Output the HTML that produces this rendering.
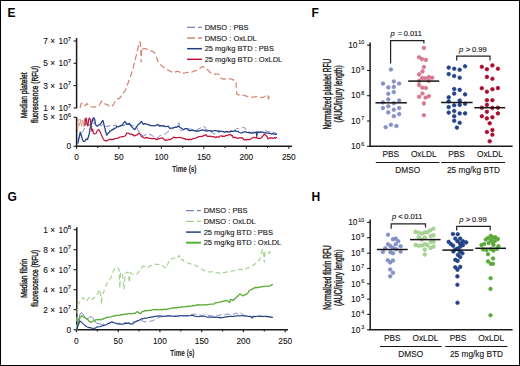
<!DOCTYPE html><html><head><meta charset="utf-8"><title>Figure</title><style>
html,body{margin:0;padding:0;background:#fff}body{width:520px;height:366px;overflow:hidden}
svg{display:block;font-family:"Liberation Sans",sans-serif}
.t{font-size:8.3px;fill:#111;stroke:#111;stroke-width:0.1px}.s{font-size:6px;fill:#111;stroke:#111;stroke-width:0.1px}.lb{font-size:12px;font-weight:bold;fill:#000}
.ax{stroke:#1a1a1a;stroke-width:1.5;fill:none}.tk{stroke:#1a1a1a;stroke-width:1.1;fill:none}
</style></head><body>
<svg width="520" height="366" viewBox="0 0 520 366">
<rect x="0.5" y="0.5" width="519" height="365" fill="#fff" stroke="#000" stroke-width="1"/>
<text class="lb" x="7.5" y="17.3">E</text>
<text class="lb" x="311.5" y="17.3">F</text>
<text class="lb" x="7.5" y="200.5">G</text>
<text class="lb" x="311.5" y="200.5">H</text>
<path class="ax" d="M76.6,38 V108.3 M76.6,117.3 V146.3 H292"/>
<path class="tk" d="M73.6,41.0 H76.6"/>
<path class="tk" d="M73.6,63.3 H76.6"/>
<path class="tk" d="M73.6,85.6 H76.6"/>
<path class="tk" d="M73.6,108.0 H76.6"/>
<path class="tk" d="M73.6,117.3 H76.6"/>
<path class="tk" d="M73.6,146.3 H76.6"/>
<text class="t" x="71.2" y="43.9" text-anchor="end">7 ×<tspan dx="1.2"> 10</tspan><tspan class="s" dy="-3.4">7</tspan></text>
<text class="t" x="71.2" y="66.2" text-anchor="end">5 ×<tspan dx="1.2"> 10</tspan><tspan class="s" dy="-3.4">7</tspan></text>
<text class="t" x="71.2" y="88.5" text-anchor="end">3 ×<tspan dx="1.2"> 10</tspan><tspan class="s" dy="-3.4">7</tspan></text>
<text class="t" x="71.2" y="110.9" text-anchor="end">1 ×<tspan dx="1.2"> 10</tspan><tspan class="s" dy="-3.4">7</tspan></text>
<text class="t" x="71.2" y="120.2" text-anchor="end">5 ×<tspan dx="1.2"> 10</tspan><tspan class="s" dy="-3.4">6</tspan></text>
<text class="t" x="71.2" y="149.2" text-anchor="end">0</text>
<path class="tk" d="M76.5,146.3 V148.8"/>
<text class="t" x="76.5" y="159.9" text-anchor="middle">0</text>
<path class="tk" d="M97.7,146.3 V147.9"/>
<path class="tk" d="M118.9,146.3 V148.8"/>
<text class="t" x="118.9" y="159.9" text-anchor="middle">50</text>
<path class="tk" d="M140.2,146.3 V147.9"/>
<path class="tk" d="M161.4,146.3 V148.8"/>
<text class="t" x="161.4" y="159.9" text-anchor="middle">100</text>
<path class="tk" d="M182.6,146.3 V147.9"/>
<path class="tk" d="M203.8,146.3 V148.8"/>
<text class="t" x="203.8" y="159.9" text-anchor="middle">150</text>
<path class="tk" d="M225.1,146.3 V147.9"/>
<path class="tk" d="M246.3,146.3 V148.8"/>
<text class="t" x="246.3" y="159.9" text-anchor="middle">200</text>
<path class="tk" d="M267.5,146.3 V147.9"/>
<path class="tk" d="M288.8,146.3 V148.8"/>
<text class="t" x="288.8" y="159.9" text-anchor="middle">250</text>
<text x="184.3" y="172.4" text-anchor="middle" font-size="9" font-weight="bold" fill="#1a1a1a" textLength="24.2" lengthAdjust="spacingAndGlyphs">Time (s)</text>
<text transform="translate(26.6,95.3) rotate(-90)" x="0" y="0" text-anchor="middle" font-size="9.9" font-weight="normal" fill="#1a1a1a" stroke="#1a1a1a" stroke-width="0.4" textLength="46" lengthAdjust="spacingAndGlyphs">Median platelet</text>
<text transform="translate(37.5,94.4) rotate(-90)" x="0" y="0" text-anchor="middle" font-size="9.9" font-weight="normal" fill="#1a1a1a" stroke="#1a1a1a" stroke-width="0.4" textLength="57" lengthAdjust="spacingAndGlyphs">fluorescence (RFU)</text>
<polyline points="80.0,108.0 80.2,107.2 80.4,106.3 80.6,105.4 80.8,105.0 81.0,104.0 81.8,103.1 82.6,102.7 83.1,103.5 83.5,104.5 84.0,105.0 84.9,105.0 85.8,105.5 86.4,104.5 87.0,103.5 87.5,104.2 88.0,104.5 88.5,105.3 89.0,106.0 89.8,106.4 90.7,106.5 91.6,106.9 92.4,107.0 93.2,106.8 94.1,106.8 94.9,106.8 95.7,107.0 96.5,106.6 97.3,106.5 98.2,105.9 99.0,105.5 99.5,104.9 99.9,103.9 100.4,103.4 100.9,102.3 101.3,101.6 101.8,101.0 102.5,101.8 103.1,102.5 103.8,103.1 104.4,103.8 105.2,103.8 106.1,104.2 106.9,104.5 107.7,104.9 108.5,105.3 109.3,106.1 110.2,106.3 111.0,107.0 111.7,106.5 112.5,105.8 113.2,104.9 113.7,103.8 114.1,103.3 114.6,102.5 115.0,101.5 115.5,100.9 115.9,100.4 116.4,99.4 117.2,98.9 118.1,98.9 118.9,98.3 119.7,98.3 120.2,97.5 120.8,96.9 121.4,95.6 121.9,95.0 122.5,94.0 123.0,93.3 123.6,92.8 124.1,91.8 124.7,91.1 125.2,90.6 125.5,89.8 125.8,89.3 126.1,88.2 126.4,87.4 126.7,86.7 127.0,85.6 127.3,85.1 127.6,84.1 127.9,83.5 128.2,83.0 128.5,81.9 128.8,80.8 129.1,80.4 129.4,79.6 129.7,78.5 130.0,77.8 130.2,77.5 130.5,76.7 130.8,75.3 131.1,74.9 131.4,74.3 131.7,73.2 131.9,72.3 132.1,71.7 132.3,70.6 132.5,70.0 132.7,69.4 132.9,68.5 133.1,67.9 133.4,66.7 133.6,66.0 133.8,65.6 134.0,64.6 134.2,63.7 134.4,62.9 134.6,62.2 134.8,61.7 135.0,60.7 135.2,59.6 135.3,59.3 135.5,58.2 135.7,57.5 135.9,56.6 136.1,55.9 136.3,55.1 136.5,54.2 136.6,53.7 136.8,52.6 137.0,52.2 137.2,51.3 137.4,50.2 137.6,49.9 137.7,49.1 137.9,48.1 138.1,47.4 138.3,46.3 138.5,45.8 138.7,44.9 138.8,43.9 139.0,43.6 139.2,42.5 140.2,42.0 140.3,42.7 140.3,43.5 140.4,44.6 140.4,45.1 140.5,46.1 140.6,46.6 140.6,47.8 140.7,48.3 140.7,48.9 140.8,50.0 140.8,51.1 140.9,51.4 140.9,52.7 140.9,53.5 140.9,54.1 141.0,54.5 141.0,55.3 141.0,56.2 141.0,57.1 141.1,58.1 141.1,59.1 141.1,59.5 141.1,60.2 141.2,61.2 141.2,62.0 141.2,61.0 141.3,60.1 141.3,59.6 141.3,58.8 141.3,57.6 141.4,57.0 141.4,56.4 141.4,55.6 141.5,54.5 141.5,54.0 141.5,52.7 141.6,52.2 141.6,51.5 141.6,50.7 141.6,49.6 141.7,48.6 141.7,48.0 142.3,48.3 143.0,49.2 144.0,48.9 145.0,48.5 146.0,48.7 147.0,49.2 148.0,49.9 149.0,50.5 149.8,50.4 150.7,50.9 151.5,50.8 152.3,51.2 153.1,51.6 153.8,52.3 154.6,53.0 154.9,53.8 155.3,54.6 155.6,55.3 156.0,55.9 156.3,56.9 156.7,58.0 157.0,58.5 157.3,59.4 157.6,60.6 157.9,60.9 158.2,62.4 158.5,63.0 159.2,64.0 160.0,64.5 160.8,65.1 161.5,65.6 162.3,66.2 163.0,66.8 163.8,67.6 164.5,67.7 165.3,68.7 166.0,69.2 167.0,69.6 168.0,70.0 168.9,70.4 169.9,71.1 170.8,71.5 171.6,72.0 172.3,72.0 173.1,72.7 173.8,73.0 174.5,72.5 175.3,72.0 176.0,71.5 176.8,71.6 177.7,71.2 178.5,71.5 179.3,72.1 180.2,72.4 181.0,73.0 181.9,73.2 182.8,72.8 183.7,73.2 184.6,73.0 185.6,72.9 186.5,72.5 187.5,72.2 188.3,72.5 189.2,72.0 190.0,72.3 190.8,72.3 191.6,72.1 192.3,71.9 193.1,71.5 193.9,71.0 194.6,70.9 195.4,70.8 196.3,70.4 197.2,69.7 198.1,69.5 198.8,68.8 199.6,68.4 200.3,68.0 201.0,67.6 201.8,66.8 202.5,66.6 203.3,67.0 204.1,67.1 204.9,67.6 205.7,67.7 206.4,68.1 207.0,69.3 207.7,69.7 208.3,70.6 209.0,71.0 209.7,72.0 210.4,72.6 211.1,73.1 211.9,73.1 212.8,73.6 213.6,73.8 214.4,74.2 215.3,74.4 216.1,74.0 217.0,74.0 217.8,74.0 218.7,74.2 219.0,74.8 219.2,76.1 219.5,77.0 219.8,77.5 220.6,77.8 221.4,78.5 222.3,78.8 223.1,79.2 224.0,79.1 224.9,78.9 225.7,78.9 226.6,78.6 227.5,78.6 228.4,78.6 229.3,78.9 230.1,78.8 231.0,79.0 231.9,79.2 232.6,79.9 233.3,79.8 234.1,80.3 234.8,81.2 235.5,81.2 236.2,81.9 236.2,82.6 236.2,83.8 236.2,84.5 236.2,85.2 236.2,86.2 236.3,86.8 236.3,87.8 236.4,88.6 236.4,89.8 236.5,90.8 236.5,91.5 236.6,92.4 236.6,93.3 236.7,93.9 237.6,94.5 238.6,94.9 239.5,95.0 240.4,95.4 241.3,94.9 242.1,95.1 243.0,95.2 243.9,95.4 244.8,95.7 245.7,95.9 246.5,96.1 247.4,96.6 248.3,96.7 249.2,96.7 250.0,96.7 250.9,96.9 251.7,97.1 252.6,97.2 253.5,97.2 254.4,97.0 255.2,96.9 256.1,96.6 257.0,96.7 257.9,96.8 258.8,97.0 259.6,97.0 260.5,97.4 261.4,97.6 262.2,97.2 263.0,97.3 263.8,97.0 264.6,96.7 265.4,96.1 266.2,95.9 267.1,95.3 267.9,95.0 268.0,95.9 268.1,97.0 268.3,98.1 268.4,98.9 268.8,98.2 269.1,97.2 269.5,96.1" fill="none" stroke="#d2826f" stroke-width="1.2" stroke-linejoin="round" stroke-dasharray="6 3"/>
<polyline points="77.6,132.5 77.8,127.0 78.0,118.7 79.1,126.1 80.2,119.1 81.3,126.8 82.4,119.0 83.5,126.7 84.6,117.6 85.7,125.1 86.8,119.4" fill="none" stroke="#d2826f" stroke-width="1.0" stroke-linejoin="round" stroke-dasharray="7 2" stroke-opacity="0.7"/>
<polyline points="77.2,141.0 77.6,140.1 78.0,139.2 78.4,138.7 78.8,138.1 79.2,137.1 79.7,136.4 80.1,136.0 80.6,135.4 81.1,134.8 81.5,133.8 82.0,132.6 82.7,131.9 83.4,130.7 83.8,129.6 84.1,128.9 84.5,127.7 84.8,127.0 84.9,125.9 85.1,125.1 85.2,124.4 85.3,124.1 85.4,123.3 85.6,122.4 85.7,121.4 86.2,120.7 86.7,119.6 87.0,120.3 87.3,121.3 87.6,122.4 87.8,123.4 88.0,124.4 88.3,125.5 88.5,126.1 89.0,125.5 89.5,124.2 89.8,122.9 90.1,122.4 90.4,121.4 90.6,122.3 90.8,123.0 91.0,123.5 91.2,124.6 91.4,125.1 91.6,126.5 91.8,127.0 92.3,126.4 92.7,125.2 93.2,124.2 93.9,123.1 94.6,122.4 95.1,123.6 95.5,124.3 96.0,125.1 96.7,125.9 97.4,126.1 98.0,125.7 98.6,124.8 99.2,124.2 99.8,124.8 100.5,125.5 101.1,126.1 101.7,125.4 102.3,124.6 102.9,124.2 103.8,124.5 104.8,125.1 105.5,126.0 106.3,126.0 107.0,127.0 108.0,126.1 109.0,126.0 110.0,125.6 111.0,125.0 112.0,125.3 113.0,126.0 114.0,125.5 115.0,125.0 116.0,125.5 117.0,126.0 118.0,126.4 119.0,127.0 119.7,126.7 120.3,125.4 121.0,125.0 122.0,125.4 123.0,126.0 124.0,125.3 125.0,125.0 126.0,124.6 127.0,124.0 128.0,124.0 129.0,124.2 130.0,124.4 130.9,124.9 131.8,124.9 132.6,125.3 133.5,125.6 134.3,126.3 135.2,126.1 136.1,126.5 136.9,127.3 137.2,128.0 137.5,129.3 137.8,130.0 138.1,130.8 138.9,131.3 139.6,132.1 140.4,133.0 141.0,133.5 141.6,134.5 142.1,134.9 142.7,136.0 143.5,135.8 144.2,135.5 145.0,134.8 146.2,134.9 147.3,134.2 148.2,134.5 149.1,134.9 149.9,134.3 150.8,134.8 151.7,135.1 152.5,136.0 153.3,136.3 154.2,136.5 155.0,137.0 155.7,138.1 156.5,138.3 157.3,137.8 158.0,137.4 158.8,136.5 159.6,136.0 160.4,135.5 161.2,135.4 162.0,135.1 162.9,134.5 163.8,134.4 164.6,134.2 165.3,134.1 166.0,133.1 166.7,132.4 167.4,132.0 168.1,131.9 168.9,131.3 169.6,131.4 170.4,130.8 171.0,130.1 171.6,129.5 172.1,128.8 172.7,128.5 173.6,128.4 174.4,127.5 175.3,126.9 176.2,126.7 176.6,125.6 177.1,124.9 177.5,124.3 177.9,123.8 179.0,122.7 179.1,123.7 179.2,124.1 179.2,124.9 179.3,126.1 179.4,126.8 179.4,128.3 179.5,128.4 179.6,129.6 180.4,130.2 181.3,130.8 182.0,130.6 182.8,129.8 183.5,129.8 184.2,129.0 185.1,128.9 185.9,128.5 186.8,128.6 187.7,128.5 188.6,128.4 189.5,129.0 190.3,129.1 191.2,129.1 192.1,129.8 192.9,129.6 193.8,130.0 194.7,129.9 195.5,129.7 196.4,130.2 197.2,129.6 198.1,129.1 199.0,128.7 199.8,128.5 200.6,127.9 201.4,128.0 202.2,127.3 203.3,126.7 204.5,126.7 205.1,127.1 205.7,128.5 206.2,128.9 206.8,129.6 207.9,130.3 209.1,130.2 209.8,130.7 210.5,131.6 211.1,132.0 211.8,132.7 212.5,133.0 213.3,133.6 214.0,133.8 214.8,134.2 215.6,133.5 216.4,133.2 217.2,133.0 218.0,132.9 218.9,132.5 219.8,132.1 220.6,131.3 221.5,131.3 222.3,131.7 223.2,132.0 224.1,131.9 224.9,132.2 225.8,132.5 226.7,132.4 227.5,132.5 228.4,132.2 229.2,131.8 230.1,131.0 231.0,130.8 231.9,131.0 232.8,130.9 233.6,130.0 234.5,130.2 235.3,130.0 236.0,129.4 236.8,128.5 237.7,128.8 238.5,128.4 239.3,129.2 240.2,129.0 241.1,128.1 242.0,128.2 242.9,127.3 243.8,127.7 244.7,127.9 245.3,128.3 245.8,129.2 246.4,130.2 247.2,130.9 247.9,131.4 248.7,131.9 249.8,132.4 251.0,132.5 251.9,132.7 252.8,132.0 253.6,131.7 254.5,131.9 255.3,132.2 256.2,131.5 257.0,132.2 257.9,131.9 258.8,131.7 259.6,132.4 260.5,132.6 261.4,132.5 262.2,132.4 263.1,131.7 263.9,131.5 264.8,130.8 265.6,130.7 266.4,131.3 267.2,131.3 268.4,131.5 269.5,131.9 270.3,131.8 271.0,131.4 271.8,130.8 272.6,131.5 273.3,132.3 274.1,133.0 275.1,132.9 276.0,133.1 277.0,133.7" fill="none" stroke="#7483c2" stroke-width="1.0" stroke-linejoin="round" stroke-dasharray="6 3"/>
<polyline points="84.7,126.0 84.8,125.3 84.9,124.4 85.0,123.2 85.1,122.3 85.2,121.8 85.3,120.8 85.4,119.9 85.5,119.0 86.2,118.0 86.3,118.8 86.4,119.8 86.5,120.6 86.7,121.5 86.8,122.1 86.9,123.1 87.0,124.0 87.4,125.0 87.8,126.0 87.9,125.2 88.0,124.5 88.1,123.6 88.3,122.6 88.4,121.7 88.5,120.8 88.6,120.0 89.0,118.8 89.4,118.0 90.2,119.0 90.3,119.7 90.4,120.7 90.5,121.6 90.6,122.5 90.7,123.5 90.8,124.3 90.9,125.1 91.0,126.0 91.1,126.7 91.3,127.5 91.4,128.4 91.5,129.2 91.7,130.2 91.8,131.0 92.2,130.2 92.6,129.0 92.8,129.9 92.9,130.5 93.1,131.6 93.2,132.3 93.4,133.0 94.6,134.0 96.0,133.5 96.3,132.8 96.7,132.0 97.0,131.0 97.7,130.4 98.3,129.5 99.5,130.5 100.0,131.7 100.6,132.6 100.9,133.5 101.3,134.6 101.7,135.6 102.0,136.3 102.5,137.1 102.9,138.3 103.4,139.1 104.1,140.1 104.8,140.9" fill="none" stroke="#c21438" stroke-width="1.2" stroke-linejoin="round"/>
<polyline points="104.8,140.9 106.3,140.6 107.1,140.8 107.8,140.5 108.6,139.8 109.4,139.3 110.3,139.2 111.2,139.8 112.0,139.4 112.9,139.4 113.8,139.2 114.6,138.6 115.5,138.6 116.4,138.5 117.2,138.3 118.1,138.0 119.0,137.7 119.9,137.1 120.8,137.0 121.6,136.7 122.5,136.5 123.7,136.5 124.8,136.0 125.3,135.7 125.9,134.9 126.5,133.8 127.0,133.0 127.8,133.2 128.6,133.2 129.4,133.7 130.0,134.2 131.2,134.0 132.3,134.8 133.1,134.7 133.8,135.6 134.6,136.0 135.4,135.4 136.1,135.1 136.9,134.8 137.7,134.6 138.4,133.6 139.2,133.0 139.7,133.8 140.1,134.1 140.6,134.6 141.0,135.6 141.5,136.5 142.3,136.5 143.0,137.3 143.8,137.7 144.7,138.2 145.6,137.9 146.4,137.4 147.3,137.7 148.2,138.2 149.1,138.3 149.9,138.4 150.8,138.3 151.7,138.7 152.5,138.6 153.3,138.6 154.2,138.3 155.0,138.5 155.7,139.5 156.5,139.4 157.4,139.6 158.2,138.5 159.1,138.8 160.0,138.3 161.2,138.2 162.3,137.7 162.9,138.2 163.4,138.9 164.0,139.4 164.6,140.0 165.5,140.4 166.3,139.9 167.2,140.2 168.1,139.8 168.9,139.4 169.8,139.7 170.7,139.4 171.5,138.8 172.3,138.2 173.0,137.7 173.8,137.1 174.6,137.7 175.4,137.7 176.2,137.7 177.3,137.6 178.5,137.5 179.7,137.3 180.8,137.7 181.9,137.8 183.1,138.3 183.9,138.8 184.8,138.5 185.7,139.5 186.5,139.4 187.5,139.2 188.5,139.8 189.5,139.4 190.3,139.1 191.2,139.6 192.1,139.2 192.9,138.8 193.8,138.5 194.7,138.3 195.5,138.1 196.4,137.7 197.2,137.5 198.1,136.9 199.0,136.5 199.8,136.5 200.7,136.4 201.6,136.7 202.4,136.2 203.3,136.0 204.3,135.2 205.2,135.5 206.2,134.8 206.8,135.6 207.3,136.3 207.9,136.5 208.8,136.2 209.7,136.7 210.5,136.1 211.4,136.5 212.2,136.8 213.1,136.6 214.0,136.7 214.8,137.1 215.7,137.5 216.6,136.7 217.4,137.1 218.3,137.1 219.1,137.1 219.8,136.1 220.6,136.0 221.5,135.8 222.3,136.5 223.2,136.1 224.1,136.3 224.9,136.3 225.8,135.4 226.7,135.5 227.5,135.4 228.3,134.8 229.0,135.0 229.8,134.5 230.6,134.4 231.4,135.6 232.2,135.4 232.6,135.7 232.9,137.2 233.3,137.7 234.4,137.2 235.6,137.7 236.5,137.7 237.4,138.4 238.3,138.3 239.2,137.8 240.1,137.7 240.9,138.0 241.8,137.7 242.4,138.2 242.9,138.4 243.5,139.4 244.5,140.1 245.4,139.5 246.4,140.0 247.2,139.4 248.1,139.5 249.0,139.7 249.8,139.4 250.7,139.2 251.6,138.2 252.4,138.0 253.3,137.7 254.2,137.2 255.1,137.6 255.9,138.0 256.8,137.7 257.6,138.1 258.5,138.4 259.4,138.4 260.2,138.3 261.0,138.1 261.7,137.3 262.5,136.5 263.1,135.7 263.7,134.7 264.3,134.2 265.1,135.0 266.0,135.4 266.5,135.9 266.9,136.4 267.4,137.4 267.8,138.5 268.3,138.8 269.1,138.1 269.8,138.2 270.6,137.7 271.8,137.9 272.9,138.3 273.7,138.2 274.5,137.6 275.4,138.3 276.2,137.4 277.0,137.5" fill="none" stroke="#c21438" stroke-width="1.25" stroke-linejoin="round"/>
<polyline points="77.9,143.7 78.1,142.6 78.2,142.1 78.4,141.1 78.6,140.5 78.7,139.7 78.9,138.3 79.1,137.4 79.2,137.4 79.4,136.0 79.5,135.1 79.7,135.1 79.9,133.7 80.0,133.3 80.2,132.1 80.5,132.9 80.8,133.9 81.0,134.3 81.3,135.6 81.6,136.3 81.8,137.5 82.1,137.9 82.3,138.9 82.5,139.6 82.8,139.8 83.0,141.0 83.9,141.5 84.8,141.4 85.3,140.7 85.7,139.7 86.2,139.1 87.6,139.5 87.8,138.2 88.0,138.3 88.3,137.1 88.5,136.3 88.8,135.6 89.0,134.8 89.2,133.7 89.5,132.6 89.6,132.1 89.7,130.6 89.8,130.1 89.9,128.9 90.2,127.9 90.4,127.4 90.7,126.4 90.9,125.1 91.3,123.8 91.8,123.3 91.9,122.0 92.0,121.2 92.1,121.0 92.2,119.6 92.5,120.4 92.7,121.4 92.8,120.6 93.0,119.4 93.1,118.6 93.2,117.7 93.9,118.0 94.6,118.6 94.7,119.3 94.9,120.3 95.0,121.1 95.1,122.2 95.2,122.8 95.4,123.8 95.5,124.2 96.2,125.5 96.9,126.1 97.6,126.1 98.3,125.1 99.2,124.8 100.1,124.2 100.6,123.2 101.0,123.2 101.5,122.6 102.0,121.4 102.9,120.5 103.2,121.8 103.4,122.4 103.7,123.5 103.9,124.2 104.1,124.8 104.3,126.4 104.6,127.0 104.8,127.9 105.0,128.5 105.2,129.1 105.3,130.7 105.5,131.6 105.7,131.9 106.0,132.4 106.3,134.0 106.6,134.4 106.9,135.4 107.3,134.3 107.8,133.7 108.2,133.5 108.6,132.5 109.4,132.3 110.1,130.9 110.9,130.8 111.6,130.5 112.3,129.4 113.1,129.7 113.8,129.0 114.5,128.3 115.2,128.2 116.0,127.8 116.7,126.7 117.6,126.6 118.5,126.9 119.3,126.1 120.2,126.2 121.0,125.4 121.7,125.5 122.5,125.0 123.0,123.8 123.4,123.3 123.9,122.8 124.3,122.3 124.8,121.5 125.3,121.9 125.9,122.5 126.5,124.0 127.0,124.4 127.8,123.8 128.6,124.1 129.4,123.3 129.7,124.5 130.0,125.0 130.6,125.5 131.2,126.1 131.7,126.7 132.3,127.3 132.9,128.0 133.4,128.5 134.0,129.1 134.6,129.6 135.1,129.0 135.5,128.7 136.0,127.6 136.4,126.8 136.9,126.2 137.5,125.8 138.1,124.7 138.6,124.2 139.2,123.8 139.8,123.7 140.3,122.7 140.9,122.1 141.5,121.5 141.9,121.7 142.4,122.9 142.9,123.8 143.3,124.4 144.4,123.6 145.6,123.8 146.8,124.2 147.9,124.4 148.7,124.9 149.4,124.8 150.2,125.6 151.2,125.7 152.1,125.6 153.1,125.6 154.2,125.8 155.4,125.6 156.2,125.1 156.9,125.0 157.7,124.4 158.3,125.2 158.8,125.1 159.4,126.2 160.4,125.6 161.3,126.0 162.3,125.6 163.2,126.3 164.1,125.9 164.9,126.4 165.8,126.7 166.9,126.5 168.1,126.2 168.7,126.8 169.2,127.6 169.8,128.5 170.8,128.1 171.7,128.0 172.7,127.9 173.6,127.8 174.4,127.4 175.3,127.3 176.2,127.3 177.0,127.2 177.7,126.1 178.5,126.2 179.3,126.8 180.0,127.6 180.8,127.9 181.6,128.3 182.3,128.8 183.1,129.6 183.9,129.6 184.8,128.8 185.7,128.5 186.5,128.5 187.2,129.0 188.0,129.8 188.8,129.8 189.5,130.8 190.3,130.5 191.2,130.3 192.1,130.7 192.9,130.2 193.8,130.4 194.7,131.1 195.5,130.7 196.4,131.3 197.2,130.9 198.1,131.1 199.0,131.1 199.8,130.5 200.7,130.4 201.6,130.1 202.4,129.9 203.3,130.2 204.2,130.4 205.1,130.2 205.9,131.0 206.8,130.8 207.7,131.1 208.5,130.5 209.3,130.6 210.2,130.8 211.1,131.1 211.9,130.9 212.8,131.1 213.7,130.8 214.6,130.7 215.4,130.5 216.3,130.7 217.2,131.0 218.0,131.4 218.9,130.9 219.8,131.1 220.6,131.3 221.5,131.4 222.3,131.5 223.2,131.7 224.1,131.9 224.9,132.3 225.8,131.5 226.7,131.3 227.5,131.7 228.4,132.0 229.2,131.9 230.1,131.9 231.0,131.3 231.9,131.1 232.8,131.5 233.6,131.4 234.5,130.8 235.3,130.6 236.2,131.3 237.1,131.5 237.9,131.3 238.7,132.1 239.5,132.5 240.7,132.8 241.8,133.0 242.6,132.4 243.3,132.1 244.1,131.9 244.9,131.8 245.8,131.8 246.7,132.4 247.5,132.5 248.4,132.4 249.2,133.1 250.1,132.4 251.0,133.0 251.9,133.3 252.8,132.9 253.6,133.0 254.5,132.5 255.3,132.6 256.2,131.9 256.3,133.2 256.4,133.8 256.6,134.2 256.7,135.8 256.8,136.5 256.9,135.4 257.0,134.7 257.1,134.3 257.2,133.3 257.3,132.5 258.3,132.2 259.2,132.5 260.2,131.9 261.1,132.2 261.9,132.0 262.8,132.1 263.7,132.5 264.6,133.0 265.4,132.7 266.3,133.2 267.2,133.0 268.1,133.0 268.9,133.0 269.8,133.6 270.6,133.7 271.5,134.0 272.4,133.4 273.2,134.0 274.1,133.7 275.1,134.3 276.0,134.3 277.0,134.2" fill="none" stroke="#223f84" stroke-width="1.25" stroke-linejoin="round"/>
<path d="M187.1,27.3 H201.9" stroke="#7483c2" stroke-width="1.2" stroke-dasharray="7.8 3.1"/>
<text class="t" x="204.7" y="29.9" style="font-size:7.5px">DMSO : PBS</text>
<path d="M187.1,38.0 H201.9" stroke="#d2826f" stroke-width="1.5" stroke-dasharray="7.8 3.1"/>
<text class="t" x="204.7" y="40.6" style="font-size:7.5px">DMSO : OxLDL</text>
<path d="M187.1,48.7 H201.9" stroke="#223f84" stroke-width="1.5"/>
<text class="t" x="204.7" y="51.3" style="font-size:7.5px">25 mg/kg BTD : PBS</text>
<path d="M187.1,59.3 H201.9" stroke="#c21438" stroke-width="1.5"/>
<text class="t" x="204.7" y="61.9" style="font-size:7.5px">25 mg/kg BTD : OxLDL</text>
<path class="ax" d="M370.1,42.5 V146.2 H512.6"/>
<path class="tk" d="M367.1,45.2 H370.3"/>
<text class="t" x="364.2" y="47.9" text-anchor="end">10<tspan class="s" dx="0.9" dy="-3.5" style="font-size:5.3px">10</tspan></text>
<path class="tk" d="M367.1,70.5 H370.3"/>
<text class="t" x="364.2" y="73.2" text-anchor="end">10<tspan class="s" dx="0.9" dy="-3.5" style="font-size:5.3px">9</tspan></text>
<path class="tk" d="M367.1,95.7 H370.3"/>
<text class="t" x="364.2" y="98.4" text-anchor="end">10<tspan class="s" dx="0.9" dy="-3.5" style="font-size:5.3px">8</tspan></text>
<path class="tk" d="M367.1,121.0 H370.3"/>
<text class="t" x="364.2" y="123.7" text-anchor="end">10<tspan class="s" dx="0.9" dy="-3.5" style="font-size:5.3px">7</tspan></text>
<path class="tk" d="M367.1,146.3 H370.3"/>
<text class="t" x="364.2" y="149.0" text-anchor="end">10<tspan class="s" dx="0.9" dy="-3.5" style="font-size:5.3px">6</tspan></text>
<text class="t" x="390.8" y="156.9" text-anchor="middle">PBS</text>
<text class="t" x="423.8" y="156.9" text-anchor="middle">OxLDL</text>
<text class="t" x="456.6" y="156.9" text-anchor="middle">PBS</text>
<text class="t" x="489.9" y="156.9" text-anchor="middle">OxLDL</text>
<path d="M375.8,162.5 H439.4" stroke="#151515" stroke-width="1.1"/>
<path d="M441.2,162.5 H505" stroke="#151515" stroke-width="1.1"/>
<text class="t" x="407.7" y="172.5" text-anchor="middle">DMSO</text>
<text class="t" x="473.5" y="172.5" text-anchor="middle">25 mg/kg BTD</text>
<text transform="translate(331.2,94.2) rotate(-90)" x="0" y="0" text-anchor="middle" font-size="10.2" font-weight="normal" fill="#1a1a1a" stroke="#1a1a1a" stroke-width="0.4" textLength="70.7" lengthAdjust="spacingAndGlyphs">Normalized platelet RFU</text>
<text transform="translate(341.9,93.8) rotate(-90)" x="0" y="0" text-anchor="middle" font-size="10.2" font-weight="normal" fill="#1a1a1a" stroke="#1a1a1a" stroke-width="0.4" textLength="57.3" lengthAdjust="spacingAndGlyphs">(AUC/injury length)</text>
<circle cx="390.9" cy="69.5" r="1.8" fill="#8892c8" stroke="#7d88c0" stroke-width="0.7"/>
<circle cx="383.0" cy="83.6" r="1.8" fill="#8892c8" stroke="#7d88c0" stroke-width="0.7"/>
<circle cx="393.8" cy="81.5" r="1.8" fill="#8892c8" stroke="#7d88c0" stroke-width="0.7"/>
<circle cx="399.2" cy="83.5" r="1.8" fill="#8892c8" stroke="#7d88c0" stroke-width="0.7"/>
<circle cx="388.3" cy="87.4" r="1.8" fill="#8892c8" stroke="#7d88c0" stroke-width="0.7"/>
<circle cx="393.8" cy="86.9" r="1.8" fill="#8892c8" stroke="#7d88c0" stroke-width="0.7"/>
<circle cx="388.3" cy="93.8" r="1.8" fill="#8892c8" stroke="#7d88c0" stroke-width="0.7"/>
<circle cx="393.8" cy="92.1" r="1.8" fill="#8892c8" stroke="#7d88c0" stroke-width="0.7"/>
<circle cx="388.3" cy="99.4" r="1.8" fill="#8892c8" stroke="#7d88c0" stroke-width="0.7"/>
<circle cx="399.2" cy="100.5" r="1.8" fill="#8892c8" stroke="#7d88c0" stroke-width="0.7"/>
<circle cx="382.9" cy="102.4" r="1.8" fill="#8892c8" stroke="#7d88c0" stroke-width="0.7"/>
<circle cx="393.8" cy="103.2" r="1.8" fill="#8892c8" stroke="#7d88c0" stroke-width="0.7"/>
<circle cx="382.9" cy="108.1" r="1.8" fill="#8892c8" stroke="#7d88c0" stroke-width="0.7"/>
<circle cx="388.3" cy="106.3" r="1.8" fill="#8892c8" stroke="#7d88c0" stroke-width="0.7"/>
<circle cx="393.8" cy="109.8" r="1.8" fill="#8892c8" stroke="#7d88c0" stroke-width="0.7"/>
<circle cx="399.2" cy="108.1" r="1.8" fill="#8892c8" stroke="#7d88c0" stroke-width="0.7"/>
<circle cx="388.3" cy="112.4" r="1.8" fill="#8892c8" stroke="#7d88c0" stroke-width="0.7"/>
<circle cx="393.8" cy="116.2" r="1.8" fill="#8892c8" stroke="#7d88c0" stroke-width="0.7"/>
<circle cx="399.2" cy="114.1" r="1.8" fill="#8892c8" stroke="#7d88c0" stroke-width="0.7"/>
<circle cx="385.7" cy="127.2" r="1.8" fill="#8892c8" stroke="#7d88c0" stroke-width="0.7"/>
<circle cx="390.9" cy="124.8" r="1.8" fill="#8892c8" stroke="#7d88c0" stroke-width="0.7"/>
<circle cx="396.4" cy="126.0" r="1.8" fill="#8892c8" stroke="#7d88c0" stroke-width="0.7"/>
<circle cx="423.9" cy="47.9" r="1.8" fill="#d87a93" stroke="#d26b86" stroke-width="0.7"/>
<circle cx="419.1" cy="57.3" r="1.8" fill="#d87a93" stroke="#d26b86" stroke-width="0.7"/>
<circle cx="422.0" cy="59.1" r="1.8" fill="#d87a93" stroke="#d26b86" stroke-width="0.7"/>
<circle cx="425.9" cy="59.9" r="1.8" fill="#d87a93" stroke="#d26b86" stroke-width="0.7"/>
<circle cx="423.9" cy="67.1" r="1.8" fill="#d87a93" stroke="#d26b86" stroke-width="0.7"/>
<circle cx="422.5" cy="71.4" r="1.8" fill="#d87a93" stroke="#d26b86" stroke-width="0.7"/>
<circle cx="419.1" cy="74.4" r="1.8" fill="#d87a93" stroke="#d26b86" stroke-width="0.7"/>
<circle cx="422.2" cy="78.1" r="1.8" fill="#d87a93" stroke="#d26b86" stroke-width="0.7"/>
<circle cx="425.5" cy="78.3" r="1.8" fill="#d87a93" stroke="#d26b86" stroke-width="0.7"/>
<circle cx="428.9" cy="77.0" r="1.8" fill="#d87a93" stroke="#d26b86" stroke-width="0.7"/>
<circle cx="432.2" cy="77.7" r="1.8" fill="#d87a93" stroke="#d26b86" stroke-width="0.7"/>
<circle cx="419.1" cy="80.9" r="1.8" fill="#d87a93" stroke="#d26b86" stroke-width="0.7"/>
<circle cx="428.9" cy="80.9" r="1.8" fill="#d87a93" stroke="#d26b86" stroke-width="0.7"/>
<circle cx="419.1" cy="85.1" r="1.8" fill="#d87a93" stroke="#d26b86" stroke-width="0.7"/>
<circle cx="422.4" cy="87.7" r="1.8" fill="#d87a93" stroke="#d26b86" stroke-width="0.7"/>
<circle cx="425.9" cy="88.0" r="1.8" fill="#d87a93" stroke="#d26b86" stroke-width="0.7"/>
<circle cx="422.4" cy="93.5" r="1.8" fill="#d87a93" stroke="#d26b86" stroke-width="0.7"/>
<circle cx="419.1" cy="96.8" r="1.8" fill="#d87a93" stroke="#d26b86" stroke-width="0.7"/>
<circle cx="425.6" cy="97.5" r="1.8" fill="#d87a93" stroke="#d26b86" stroke-width="0.7"/>
<circle cx="428.9" cy="96.2" r="1.8" fill="#d87a93" stroke="#d26b86" stroke-width="0.7"/>
<circle cx="423.9" cy="103.4" r="1.8" fill="#d87a93" stroke="#d26b86" stroke-width="0.7"/>
<circle cx="423.9" cy="115.3" r="1.8" fill="#d87a93" stroke="#d26b86" stroke-width="0.7"/>
<circle cx="448.7" cy="67.6" r="1.8" fill="#23438a" stroke="#1c3c80" stroke-width="0.7"/>
<circle cx="454.2" cy="68.7" r="1.8" fill="#23438a" stroke="#1c3c80" stroke-width="0.7"/>
<circle cx="459.7" cy="69.8" r="1.8" fill="#23438a" stroke="#1c3c80" stroke-width="0.7"/>
<circle cx="465.1" cy="66.3" r="1.8" fill="#23438a" stroke="#1c3c80" stroke-width="0.7"/>
<circle cx="448.7" cy="74.1" r="1.8" fill="#23438a" stroke="#1c3c80" stroke-width="0.7"/>
<circle cx="454.2" cy="76.0" r="1.8" fill="#23438a" stroke="#1c3c80" stroke-width="0.7"/>
<circle cx="459.7" cy="77.7" r="1.8" fill="#23438a" stroke="#1c3c80" stroke-width="0.7"/>
<circle cx="454.2" cy="89.0" r="1.8" fill="#23438a" stroke="#1c3c80" stroke-width="0.7"/>
<circle cx="459.7" cy="89.9" r="1.8" fill="#23438a" stroke="#1c3c80" stroke-width="0.7"/>
<circle cx="454.2" cy="93.6" r="1.8" fill="#23438a" stroke="#1c3c80" stroke-width="0.7"/>
<circle cx="465.1" cy="94.4" r="1.8" fill="#23438a" stroke="#1c3c80" stroke-width="0.7"/>
<circle cx="448.7" cy="97.3" r="1.8" fill="#23438a" stroke="#1c3c80" stroke-width="0.7"/>
<circle cx="448.7" cy="101.3" r="1.8" fill="#23438a" stroke="#1c3c80" stroke-width="0.7"/>
<circle cx="459.7" cy="100.6" r="1.8" fill="#23438a" stroke="#1c3c80" stroke-width="0.7"/>
<circle cx="454.2" cy="105.3" r="1.8" fill="#23438a" stroke="#1c3c80" stroke-width="0.7"/>
<circle cx="459.7" cy="104.9" r="1.8" fill="#23438a" stroke="#1c3c80" stroke-width="0.7"/>
<circle cx="465.1" cy="103.8" r="1.8" fill="#23438a" stroke="#1c3c80" stroke-width="0.7"/>
<circle cx="448.7" cy="107.1" r="1.8" fill="#23438a" stroke="#1c3c80" stroke-width="0.7"/>
<circle cx="454.2" cy="111.0" r="1.8" fill="#23438a" stroke="#1c3c80" stroke-width="0.7"/>
<circle cx="448.7" cy="112.6" r="1.8" fill="#23438a" stroke="#1c3c80" stroke-width="0.7"/>
<circle cx="459.7" cy="113.4" r="1.8" fill="#23438a" stroke="#1c3c80" stroke-width="0.7"/>
<circle cx="465.1" cy="113.4" r="1.8" fill="#23438a" stroke="#1c3c80" stroke-width="0.7"/>
<circle cx="454.2" cy="116.2" r="1.8" fill="#23438a" stroke="#1c3c80" stroke-width="0.7"/>
<circle cx="454.2" cy="120.8" r="1.8" fill="#23438a" stroke="#1c3c80" stroke-width="0.7"/>
<circle cx="459.7" cy="122.8" r="1.8" fill="#23438a" stroke="#1c3c80" stroke-width="0.7"/>
<circle cx="456.9" cy="127.6" r="1.8" fill="#23438a" stroke="#1c3c80" stroke-width="0.7"/>
<circle cx="481.8" cy="66.8" r="1.8" fill="#ab0a2a" stroke="#ab0a2a" stroke-width="0.7"/>
<circle cx="486.9" cy="69.2" r="1.8" fill="#ab0a2a" stroke="#ab0a2a" stroke-width="0.7"/>
<circle cx="492.4" cy="65.4" r="1.8" fill="#ab0a2a" stroke="#ab0a2a" stroke-width="0.7"/>
<circle cx="497.9" cy="68.7" r="1.8" fill="#ab0a2a" stroke="#ab0a2a" stroke-width="0.7"/>
<circle cx="486.9" cy="76.9" r="1.8" fill="#ab0a2a" stroke="#ab0a2a" stroke-width="0.7"/>
<circle cx="492.4" cy="78.8" r="1.8" fill="#ab0a2a" stroke="#ab0a2a" stroke-width="0.7"/>
<circle cx="481.8" cy="88.2" r="1.8" fill="#ab0a2a" stroke="#ab0a2a" stroke-width="0.7"/>
<circle cx="486.9" cy="91.7" r="1.8" fill="#ab0a2a" stroke="#ab0a2a" stroke-width="0.7"/>
<circle cx="492.4" cy="89.2" r="1.8" fill="#ab0a2a" stroke="#ab0a2a" stroke-width="0.7"/>
<circle cx="497.9" cy="88.1" r="1.8" fill="#ab0a2a" stroke="#ab0a2a" stroke-width="0.7"/>
<circle cx="486.9" cy="100.2" r="1.8" fill="#ab0a2a" stroke="#ab0a2a" stroke-width="0.7"/>
<circle cx="492.4" cy="100.2" r="1.8" fill="#ab0a2a" stroke="#ab0a2a" stroke-width="0.7"/>
<circle cx="486.9" cy="104.9" r="1.8" fill="#ab0a2a" stroke="#ab0a2a" stroke-width="0.7"/>
<circle cx="481.8" cy="107.7" r="1.8" fill="#ab0a2a" stroke="#ab0a2a" stroke-width="0.7"/>
<circle cx="492.4" cy="107.9" r="1.8" fill="#ab0a2a" stroke="#ab0a2a" stroke-width="0.7"/>
<circle cx="497.9" cy="107.7" r="1.8" fill="#ab0a2a" stroke="#ab0a2a" stroke-width="0.7"/>
<circle cx="486.9" cy="111.8" r="1.8" fill="#ab0a2a" stroke="#ab0a2a" stroke-width="0.7"/>
<circle cx="497.9" cy="113.4" r="1.8" fill="#ab0a2a" stroke="#ab0a2a" stroke-width="0.7"/>
<circle cx="481.8" cy="116.2" r="1.8" fill="#ab0a2a" stroke="#ab0a2a" stroke-width="0.7"/>
<circle cx="486.9" cy="118.4" r="1.8" fill="#ab0a2a" stroke="#ab0a2a" stroke-width="0.7"/>
<circle cx="492.4" cy="117.3" r="1.8" fill="#ab0a2a" stroke="#ab0a2a" stroke-width="0.7"/>
<circle cx="489.7" cy="123.3" r="1.8" fill="#ab0a2a" stroke="#ab0a2a" stroke-width="0.7"/>
<circle cx="486.9" cy="132.0" r="1.8" fill="#ab0a2a" stroke="#ab0a2a" stroke-width="0.7"/>
<circle cx="492.4" cy="130.0" r="1.8" fill="#ab0a2a" stroke="#ab0a2a" stroke-width="0.7"/>
<circle cx="492.4" cy="134.7" r="1.8" fill="#ab0a2a" stroke="#ab0a2a" stroke-width="0.7"/>
<circle cx="489.7" cy="141.3" r="1.8" fill="#ab0a2a" stroke="#ab0a2a" stroke-width="0.7"/>
<path d="M375.5,102.8 H406.8" stroke="#151515" stroke-width="1.5"/>
<path d="M408.2,81.1 H439.2" stroke="#151515" stroke-width="1.5"/>
<path d="M441.1,102.5 H472.6" stroke="#151515" stroke-width="1.5"/>
<path d="M474.3,107.7 H505.2" stroke="#151515" stroke-width="1.5"/>
<path d="M390.6,63.4 V40.6 H423.9 V43.5" fill="none" stroke="#222" stroke-width="1.2"/>
<text x="390.5" y="36.0" font-size="7.6" font-style="italic" fill="#1a1a1a" stroke="#1a1a1a" stroke-width="0.12">p</text>
<text x="400.0" y="36.0" font-size="7.6" fill="#1a1a1a" stroke="#1a1a1a" stroke-width="0.2" text-anchor="middle">=</text>
<text x="403.7" y="36.0" font-size="7.5" fill="#1a1a1a" stroke="#1a1a1a" stroke-width="0.15">0.011</text>
<path d="M456.7,60.5 V56.2 H490 V60.5" fill="none" stroke="#222" stroke-width="1.2"/>
<text x="458.9" y="51.6" font-size="7.6" font-style="italic" fill="#1a1a1a" stroke="#1a1a1a" stroke-width="0.12">p</text>
<text x="467.9" y="51.6" font-size="7.6" fill="#1a1a1a" stroke="#1a1a1a" stroke-width="0.2" text-anchor="middle">&gt;</text>
<text x="472.0" y="51.6" font-size="7.5" fill="#1a1a1a" stroke="#1a1a1a" stroke-width="0.15">0.99</text>
<path class="ax" d="M370.2,219.4 V329.8 H512.6"/>
<path class="tk" d="M367.1,222.4 H370.2"/>
<text class="t" x="364.2" y="225.1" text-anchor="end">10<tspan class="s" dx="0.9" dy="-3.5" style="font-size:5.3px">10</tspan></text>
<path class="tk" d="M367.1,237.7 H370.2"/>
<text class="t" x="364.2" y="240.4" text-anchor="end">10<tspan class="s" dx="0.9" dy="-3.5" style="font-size:5.3px">9</tspan></text>
<path class="tk" d="M367.1,253.1 H370.2"/>
<text class="t" x="364.2" y="255.8" text-anchor="end">10<tspan class="s" dx="0.9" dy="-3.5" style="font-size:5.3px">8</tspan></text>
<path class="tk" d="M367.1,268.4 H370.2"/>
<text class="t" x="364.2" y="271.1" text-anchor="end">10<tspan class="s" dx="0.9" dy="-3.5" style="font-size:5.3px">7</tspan></text>
<path class="tk" d="M367.1,283.8 H370.2"/>
<text class="t" x="364.2" y="286.5" text-anchor="end">10<tspan class="s" dx="0.9" dy="-3.5" style="font-size:5.3px">6</tspan></text>
<path class="tk" d="M367.1,299.1 H370.2"/>
<text class="t" x="364.2" y="301.8" text-anchor="end">10<tspan class="s" dx="0.9" dy="-3.5" style="font-size:5.3px">5</tspan></text>
<path class="tk" d="M367.1,314.4 H370.2"/>
<text class="t" x="364.2" y="317.1" text-anchor="end">10<tspan class="s" dx="0.9" dy="-3.5" style="font-size:5.3px">4</tspan></text>
<path class="tk" d="M367.1,329.8 H370.2"/>
<text class="t" x="364.2" y="332.5" text-anchor="end">10<tspan class="s" dx="0.9" dy="-3.5" style="font-size:5.3px">3</tspan></text>
<text class="t" x="392.3" y="340.7" text-anchor="middle">PBS</text>
<text class="t" x="425.4" y="340.7" text-anchor="middle">OxLDL</text>
<text class="t" x="458.1" y="340.7" text-anchor="middle">PBS</text>
<text class="t" x="491.2" y="340.7" text-anchor="middle">OxLDL</text>
<path d="M380,346.5 H441.6" stroke="#151515" stroke-width="1.1"/>
<path d="M445.3,346.5 H507.4" stroke="#151515" stroke-width="1.1"/>
<text class="t" x="410.8" y="356.5" text-anchor="middle">DMSO</text>
<text class="t" x="476.5" y="356.5" text-anchor="middle">25 mg/kg BTD</text>
<text transform="translate(331.0,277.5) rotate(-90)" x="0" y="0" text-anchor="middle" font-size="10.2" font-weight="normal" fill="#1a1a1a" stroke="#1a1a1a" stroke-width="0.4" textLength="64.3" lengthAdjust="spacingAndGlyphs">Normalized fibrin RFU</text>
<text transform="translate(341.9,277.8) rotate(-90)" x="0" y="0" text-anchor="middle" font-size="10.2" font-weight="normal" fill="#1a1a1a" stroke="#1a1a1a" stroke-width="0.4" textLength="56.5" lengthAdjust="spacingAndGlyphs">(AUC/injury length)</text>
<circle cx="388.0" cy="234.7" r="1.8" fill="#8892c8" stroke="#7d88c0" stroke-width="0.7"/>
<circle cx="393.0" cy="239.3" r="1.8" fill="#8892c8" stroke="#7d88c0" stroke-width="0.7"/>
<circle cx="395.7" cy="238.6" r="1.8" fill="#8892c8" stroke="#7d88c0" stroke-width="0.7"/>
<circle cx="398.2" cy="241.2" r="1.8" fill="#8892c8" stroke="#7d88c0" stroke-width="0.7"/>
<circle cx="388.0" cy="244.3" r="1.8" fill="#8892c8" stroke="#7d88c0" stroke-width="0.7"/>
<circle cx="395.7" cy="244.2" r="1.8" fill="#8892c8" stroke="#7d88c0" stroke-width="0.7"/>
<circle cx="390.5" cy="246.0" r="1.8" fill="#8892c8" stroke="#7d88c0" stroke-width="0.7"/>
<circle cx="400.6" cy="246.2" r="1.8" fill="#8892c8" stroke="#7d88c0" stroke-width="0.7"/>
<circle cx="385.3" cy="248.3" r="1.8" fill="#8892c8" stroke="#7d88c0" stroke-width="0.7"/>
<circle cx="393.0" cy="247.8" r="1.8" fill="#8892c8" stroke="#7d88c0" stroke-width="0.7"/>
<circle cx="396.2" cy="249.2" r="1.8" fill="#8892c8" stroke="#7d88c0" stroke-width="0.7"/>
<circle cx="382.9" cy="251.9" r="1.8" fill="#8892c8" stroke="#7d88c0" stroke-width="0.7"/>
<circle cx="390.5" cy="252.2" r="1.8" fill="#8892c8" stroke="#7d88c0" stroke-width="0.7"/>
<circle cx="393.0" cy="253.3" r="1.8" fill="#8892c8" stroke="#7d88c0" stroke-width="0.7"/>
<circle cx="400.6" cy="251.7" r="1.8" fill="#8892c8" stroke="#7d88c0" stroke-width="0.7"/>
<circle cx="387.7" cy="260.2" r="1.8" fill="#8892c8" stroke="#7d88c0" stroke-width="0.7"/>
<circle cx="393.0" cy="260.5" r="1.8" fill="#8892c8" stroke="#7d88c0" stroke-width="0.7"/>
<circle cx="390.2" cy="262.4" r="1.8" fill="#8892c8" stroke="#7d88c0" stroke-width="0.7"/>
<circle cx="390.2" cy="269.5" r="1.8" fill="#8892c8" stroke="#7d88c0" stroke-width="0.7"/>
<circle cx="393.0" cy="272.8" r="1.8" fill="#8892c8" stroke="#7d88c0" stroke-width="0.7"/>
<circle cx="390.2" cy="276.3" r="1.8" fill="#8892c8" stroke="#7d88c0" stroke-width="0.7"/>
<circle cx="415.5" cy="231.9" r="1.8" fill="#acd69a" stroke="#93c77f" stroke-width="0.7"/>
<circle cx="418.8" cy="232.7" r="1.8" fill="#acd69a" stroke="#93c77f" stroke-width="0.7"/>
<circle cx="422.0" cy="233.6" r="1.8" fill="#acd69a" stroke="#93c77f" stroke-width="0.7"/>
<circle cx="424.8" cy="232.5" r="1.8" fill="#acd69a" stroke="#93c77f" stroke-width="0.7"/>
<circle cx="427.5" cy="232.3" r="1.8" fill="#acd69a" stroke="#93c77f" stroke-width="0.7"/>
<circle cx="430.2" cy="230.3" r="1.8" fill="#acd69a" stroke="#93c77f" stroke-width="0.7"/>
<circle cx="433.5" cy="228.7" r="1.8" fill="#acd69a" stroke="#93c77f" stroke-width="0.7"/>
<circle cx="418.8" cy="237.3" r="1.8" fill="#acd69a" stroke="#93c77f" stroke-width="0.7"/>
<circle cx="421.8" cy="239.7" r="1.8" fill="#acd69a" stroke="#93c77f" stroke-width="0.7"/>
<circle cx="424.8" cy="237.6" r="1.8" fill="#acd69a" stroke="#93c77f" stroke-width="0.7"/>
<circle cx="430.8" cy="236.0" r="1.8" fill="#acd69a" stroke="#93c77f" stroke-width="0.7"/>
<circle cx="433.5" cy="235.3" r="1.8" fill="#acd69a" stroke="#93c77f" stroke-width="0.7"/>
<circle cx="430.8" cy="241.8" r="1.8" fill="#acd69a" stroke="#93c77f" stroke-width="0.7"/>
<circle cx="433.5" cy="241.8" r="1.8" fill="#acd69a" stroke="#93c77f" stroke-width="0.7"/>
<circle cx="415.6" cy="245.0" r="1.8" fill="#acd69a" stroke="#93c77f" stroke-width="0.7"/>
<circle cx="418.8" cy="245.7" r="1.8" fill="#acd69a" stroke="#93c77f" stroke-width="0.7"/>
<circle cx="422.0" cy="245.5" r="1.8" fill="#acd69a" stroke="#93c77f" stroke-width="0.7"/>
<circle cx="424.8" cy="244.2" r="1.8" fill="#acd69a" stroke="#93c77f" stroke-width="0.7"/>
<circle cx="427.5" cy="245.2" r="1.8" fill="#acd69a" stroke="#93c77f" stroke-width="0.7"/>
<circle cx="430.5" cy="248.0" r="1.8" fill="#acd69a" stroke="#93c77f" stroke-width="0.7"/>
<circle cx="433.5" cy="246.6" r="1.8" fill="#acd69a" stroke="#93c77f" stroke-width="0.7"/>
<circle cx="424.8" cy="249.6" r="1.8" fill="#acd69a" stroke="#93c77f" stroke-width="0.7"/>
<circle cx="424.8" cy="254.6" r="1.8" fill="#acd69a" stroke="#93c77f" stroke-width="0.7"/>
<circle cx="452.9" cy="234.0" r="1.8" fill="#23438a" stroke="#1c3c80" stroke-width="0.7"/>
<circle cx="457.7" cy="234.2" r="1.8" fill="#23438a" stroke="#1c3c80" stroke-width="0.7"/>
<circle cx="455.3" cy="238.6" r="1.8" fill="#23438a" stroke="#1c3c80" stroke-width="0.7"/>
<circle cx="460.2" cy="238.6" r="1.8" fill="#23438a" stroke="#1c3c80" stroke-width="0.7"/>
<circle cx="448.7" cy="241.9" r="1.8" fill="#23438a" stroke="#1c3c80" stroke-width="0.7"/>
<circle cx="457.5" cy="241.3" r="1.8" fill="#23438a" stroke="#1c3c80" stroke-width="0.7"/>
<circle cx="463.0" cy="241.3" r="1.8" fill="#23438a" stroke="#1c3c80" stroke-width="0.7"/>
<circle cx="466.2" cy="242.4" r="1.8" fill="#23438a" stroke="#1c3c80" stroke-width="0.7"/>
<circle cx="450.9" cy="244.0" r="1.8" fill="#23438a" stroke="#1c3c80" stroke-width="0.7"/>
<circle cx="460.2" cy="243.5" r="1.8" fill="#23438a" stroke="#1c3c80" stroke-width="0.7"/>
<circle cx="453.1" cy="245.7" r="1.8" fill="#23438a" stroke="#1c3c80" stroke-width="0.7"/>
<circle cx="463.0" cy="245.1" r="1.8" fill="#23438a" stroke="#1c3c80" stroke-width="0.7"/>
<circle cx="460.2" cy="246.8" r="1.8" fill="#23438a" stroke="#1c3c80" stroke-width="0.7"/>
<circle cx="457.5" cy="248.6" r="1.8" fill="#23438a" stroke="#1c3c80" stroke-width="0.7"/>
<circle cx="455.3" cy="249.5" r="1.8" fill="#23438a" stroke="#1c3c80" stroke-width="0.7"/>
<circle cx="453.4" cy="251.4" r="1.8" fill="#23438a" stroke="#1c3c80" stroke-width="0.7"/>
<circle cx="459.9" cy="251.6" r="1.8" fill="#23438a" stroke="#1c3c80" stroke-width="0.7"/>
<circle cx="462.4" cy="253.3" r="1.8" fill="#23438a" stroke="#1c3c80" stroke-width="0.7"/>
<circle cx="458.0" cy="254.9" r="1.8" fill="#23438a" stroke="#1c3c80" stroke-width="0.7"/>
<circle cx="460.2" cy="257.1" r="1.8" fill="#23438a" stroke="#1c3c80" stroke-width="0.7"/>
<circle cx="455.3" cy="259.8" r="1.8" fill="#23438a" stroke="#1c3c80" stroke-width="0.7"/>
<circle cx="457.5" cy="260.9" r="1.8" fill="#23438a" stroke="#1c3c80" stroke-width="0.7"/>
<circle cx="455.3" cy="267.3" r="1.8" fill="#23438a" stroke="#1c3c80" stroke-width="0.7"/>
<circle cx="460.2" cy="266.9" r="1.8" fill="#23438a" stroke="#1c3c80" stroke-width="0.7"/>
<circle cx="457.5" cy="269.7" r="1.8" fill="#23438a" stroke="#1c3c80" stroke-width="0.7"/>
<circle cx="457.4" cy="276.4" r="1.8" fill="#23438a" stroke="#1c3c80" stroke-width="0.7"/>
<circle cx="457.4" cy="284.8" r="1.8" fill="#23438a" stroke="#1c3c80" stroke-width="0.7"/>
<circle cx="457.5" cy="302.8" r="1.8" fill="#23438a" stroke="#1c3c80" stroke-width="0.7"/>
<circle cx="490.8" cy="235.8" r="1.8" fill="#5ba73a" stroke="#5ba73a" stroke-width="0.7"/>
<circle cx="485.8" cy="239.5" r="1.8" fill="#5ba73a" stroke="#5ba73a" stroke-width="0.7"/>
<circle cx="488.0" cy="238.0" r="1.8" fill="#5ba73a" stroke="#5ba73a" stroke-width="0.7"/>
<circle cx="493.0" cy="237.5" r="1.8" fill="#5ba73a" stroke="#5ba73a" stroke-width="0.7"/>
<circle cx="495.4" cy="237.3" r="1.8" fill="#5ba73a" stroke="#5ba73a" stroke-width="0.7"/>
<circle cx="497.9" cy="239.1" r="1.8" fill="#5ba73a" stroke="#5ba73a" stroke-width="0.7"/>
<circle cx="490.8" cy="240.2" r="1.8" fill="#5ba73a" stroke="#5ba73a" stroke-width="0.7"/>
<circle cx="495.1" cy="240.8" r="1.8" fill="#5ba73a" stroke="#5ba73a" stroke-width="0.7"/>
<circle cx="488.6" cy="243.0" r="1.8" fill="#5ba73a" stroke="#5ba73a" stroke-width="0.7"/>
<circle cx="493.0" cy="243.0" r="1.8" fill="#5ba73a" stroke="#5ba73a" stroke-width="0.7"/>
<circle cx="481.5" cy="245.1" r="1.8" fill="#5ba73a" stroke="#5ba73a" stroke-width="0.7"/>
<circle cx="484.2" cy="244.0" r="1.8" fill="#5ba73a" stroke="#5ba73a" stroke-width="0.7"/>
<circle cx="493.5" cy="245.1" r="1.8" fill="#5ba73a" stroke="#5ba73a" stroke-width="0.7"/>
<circle cx="498.4" cy="246.2" r="1.8" fill="#5ba73a" stroke="#5ba73a" stroke-width="0.7"/>
<circle cx="483.1" cy="249.5" r="1.8" fill="#5ba73a" stroke="#5ba73a" stroke-width="0.7"/>
<circle cx="486.4" cy="250.1" r="1.8" fill="#5ba73a" stroke="#5ba73a" stroke-width="0.7"/>
<circle cx="490.8" cy="249.3" r="1.8" fill="#5ba73a" stroke="#5ba73a" stroke-width="0.7"/>
<circle cx="493.5" cy="250.6" r="1.8" fill="#5ba73a" stroke="#5ba73a" stroke-width="0.7"/>
<circle cx="496.8" cy="249.0" r="1.8" fill="#5ba73a" stroke="#5ba73a" stroke-width="0.7"/>
<circle cx="488.0" cy="254.2" r="1.8" fill="#5ba73a" stroke="#5ba73a" stroke-width="0.7"/>
<circle cx="493.0" cy="258.5" r="1.8" fill="#5ba73a" stroke="#5ba73a" stroke-width="0.7"/>
<circle cx="488.0" cy="261.4" r="1.8" fill="#5ba73a" stroke="#5ba73a" stroke-width="0.7"/>
<circle cx="490.8" cy="263.8" r="1.8" fill="#5ba73a" stroke="#5ba73a" stroke-width="0.7"/>
<circle cx="493.0" cy="263.8" r="1.8" fill="#5ba73a" stroke="#5ba73a" stroke-width="0.7"/>
<circle cx="490.6" cy="278.2" r="1.8" fill="#5ba73a" stroke="#5ba73a" stroke-width="0.7"/>
<circle cx="490.5" cy="288.9" r="1.8" fill="#5ba73a" stroke="#5ba73a" stroke-width="0.7"/>
<circle cx="490.5" cy="315.3" r="1.8" fill="#5ba73a" stroke="#5ba73a" stroke-width="0.7"/>
<path d="M376.8,249.5 H407.7" stroke="#151515" stroke-width="1.5"/>
<path d="M410,239.6 H440.6" stroke="#151515" stroke-width="1.5"/>
<path d="M442.4,250.1 H473.3" stroke="#151515" stroke-width="1.5"/>
<path d="M475.3,248.3 H506" stroke="#151515" stroke-width="1.5"/>
<path d="M391.2,228.7 V223.8 H425.5 V227.5" fill="none" stroke="#222" stroke-width="1.2"/>
<text x="391.9" y="219.1" font-size="7.6" font-style="italic" fill="#1a1a1a" stroke="#1a1a1a" stroke-width="0.12">p</text>
<text x="400.5" y="219.1" font-size="7.6" fill="#1a1a1a" stroke="#1a1a1a" stroke-width="0.2" text-anchor="middle">&lt;</text>
<text x="404.2" y="219.1" font-size="7.5" fill="#1a1a1a" stroke="#1a1a1a" stroke-width="0.15">0.011</text>
<path d="M456.7,230.5 V226.3 H490.2 V230.5" fill="none" stroke="#222" stroke-width="1.2"/>
<text x="459.3" y="221.7" font-size="7.6" font-style="italic" fill="#1a1a1a" stroke="#1a1a1a" stroke-width="0.12">p</text>
<text x="467.9" y="221.7" font-size="7.6" fill="#1a1a1a" stroke="#1a1a1a" stroke-width="0.2" text-anchor="middle">&gt;</text>
<text x="472.0" y="221.7" font-size="7.5" fill="#1a1a1a" stroke="#1a1a1a" stroke-width="0.15">0.99</text>
<path class="ax" d="M76.8,227.2 V329.8 H288"/>
<path class="tk" d="M73.6,229.7 H76.8"/>
<path class="tk" d="M73.6,249.7 H76.8"/>
<path class="tk" d="M73.6,269.7 H76.8"/>
<path class="tk" d="M73.6,289.7 H76.8"/>
<path class="tk" d="M73.6,309.7 H76.8"/>
<path class="tk" d="M73.6,329.7 H76.8"/>
<text class="t" x="71.2" y="232.6" text-anchor="end">1 ×<tspan dx="1.2"> 10</tspan><tspan class="s" dy="-3.4">8</tspan></text>
<text class="t" x="71.2" y="252.6" text-anchor="end">8 ×<tspan dx="1.2"> 10</tspan><tspan class="s" dy="-3.4">7</tspan></text>
<text class="t" x="71.2" y="272.6" text-anchor="end">6 ×<tspan dx="1.2"> 10</tspan><tspan class="s" dy="-3.4">7</tspan></text>
<text class="t" x="71.2" y="292.6" text-anchor="end">4 ×<tspan dx="1.2"> 10</tspan><tspan class="s" dy="-3.4">7</tspan></text>
<text class="t" x="71.2" y="312.6" text-anchor="end">2 ×<tspan dx="1.2"> 10</tspan><tspan class="s" dy="-3.4">7</tspan></text>
<text class="t" x="71.2" y="332.6" text-anchor="end">0</text>
<path class="tk" d="M76.4,329.8 V332.3"/>
<text class="t" x="76.4" y="343.6" text-anchor="middle">0</text>
<path class="tk" d="M97.3,329.8 V331.40000000000003"/>
<path class="tk" d="M118.2,329.8 V332.3"/>
<text class="t" x="118.2" y="343.6" text-anchor="middle">50</text>
<path class="tk" d="M139.0,329.8 V331.40000000000003"/>
<path class="tk" d="M159.9,329.8 V332.3"/>
<text class="t" x="159.9" y="343.6" text-anchor="middle">100</text>
<path class="tk" d="M180.8,329.8 V331.40000000000003"/>
<path class="tk" d="M201.7,329.8 V332.3"/>
<text class="t" x="201.7" y="343.6" text-anchor="middle">150</text>
<path class="tk" d="M222.6,329.8 V331.40000000000003"/>
<path class="tk" d="M243.4,329.8 V332.3"/>
<text class="t" x="243.4" y="343.6" text-anchor="middle">200</text>
<path class="tk" d="M264.3,329.8 V331.40000000000003"/>
<path class="tk" d="M285.2,329.8 V332.3"/>
<text class="t" x="285.2" y="343.6" text-anchor="middle">250</text>
<text x="182.3" y="356.3" text-anchor="middle" font-size="9" font-weight="bold" fill="#1a1a1a" textLength="24.2" lengthAdjust="spacingAndGlyphs">Time (s)</text>
<text transform="translate(26.6,278.2) rotate(-90)" x="0" y="0" text-anchor="middle" font-size="9.9" font-weight="normal" fill="#1a1a1a" stroke="#1a1a1a" stroke-width="0.4" textLength="39.1" lengthAdjust="spacingAndGlyphs">Median fibrin</text>
<text transform="translate(37.5,278.2) rotate(-90)" x="0" y="0" text-anchor="middle" font-size="9.9" font-weight="normal" fill="#1a1a1a" stroke="#1a1a1a" stroke-width="0.4" textLength="57" lengthAdjust="spacingAndGlyphs">fluorescence (RFU)</text>
<polyline points="76.6,329.6 76.6,328.6 76.7,328.4 76.7,326.9 76.7,326.5 76.7,325.2 76.8,324.6 76.8,324.3 76.8,322.9 76.8,322.4 76.9,321.5 76.9,320.7 76.9,319.9 76.9,318.9 77.0,318.6 77.0,317.2 77.0,316.5 77.1,315.5 77.1,314.9 77.1,314.2 77.1,313.8 77.2,312.5 77.2,311.5 77.2,310.8 77.2,310.6 77.3,309.1 77.3,308.6 77.5,307.7 77.6,306.6 77.8,305.8 77.9,304.7 78.3,303.7 78.8,303.1 79.2,302.0 79.9,301.4 80.5,300.9 81.2,300.1 81.6,299.6 82.1,298.4 82.5,297.5 83.2,297.8 83.8,298.4 84.5,299.4 85.2,300.4 85.8,300.7 86.5,301.4 87.0,300.3 87.5,300.1 87.9,299.0 88.4,298.1 89.4,297.6 90.4,296.8 90.9,297.8 91.3,297.9 91.8,298.6 92.3,299.4 93.0,299.1 93.6,297.8 94.3,297.5 94.8,297.0 95.3,295.8 95.8,295.6 96.3,294.8 96.9,294.3 97.6,293.9 98.2,292.9 98.5,292.3 98.9,291.3 99.2,290.2 99.6,289.6 99.8,290.2 100.0,291.3 100.2,292.1 100.3,292.6 100.5,294.1 100.7,294.7 100.9,295.5 101.0,296.5 101.0,296.9 101.1,297.8 101.1,298.5 101.2,299.6 101.2,300.3 101.3,301.3 101.3,302.1 101.4,303.3 101.4,304.2 101.5,304.7 101.6,303.6 101.6,302.9 101.7,301.9 101.8,301.5 101.8,300.9 101.9,299.4 101.9,299.1 102.0,297.8 102.1,296.8 102.1,296.5 102.2,295.5 102.6,294.5 103.1,293.5 103.5,292.9 103.7,292.0 103.9,290.9 104.2,290.2 104.4,289.3 104.6,288.4 104.8,287.6 105.4,286.7 106.1,285.6 106.5,284.6 106.9,283.6 107.4,282.8 107.8,282.0 108.2,281.5 108.7,280.8 109.2,280.0 109.8,279.6 110.3,278.7 110.7,277.9 111.1,277.2 111.5,276.6 111.9,275.1 112.3,274.6 112.6,273.4 112.9,272.7 113.1,272.0 113.4,271.4 113.7,270.5 114.1,269.9 114.6,268.8 115.0,268.1 115.9,268.4 116.9,267.5 117.8,267.8 118.4,268.8 119.1,269.2 119.1,269.8 119.2,271.2 119.2,271.3 119.2,272.9 119.3,273.6 119.3,274.6 119.3,275.1 119.3,275.6 119.4,277.0 119.4,277.5 119.4,278.0 119.5,279.2 119.5,280.0 119.5,280.8 119.6,281.4 119.6,282.2 119.6,283.4 119.6,284.1 119.7,284.7 119.7,285.8 119.7,286.8 119.8,287.6 119.8,288.3 119.8,287.4 119.9,286.5 119.9,285.7 120.0,284.7 120.0,283.9 120.0,283.3 120.1,282.2 120.1,281.8 120.2,281.0 120.2,280.1 120.2,278.8 120.3,278.2 120.3,277.4 120.3,276.3 120.4,276.2 120.4,275.2 120.5,274.1 120.5,273.3 121.5,273.1 122.6,272.6 122.7,273.2 122.7,274.0 122.8,275.1 122.8,276.1 122.9,276.8 123.0,277.1 123.0,278.4 123.1,279.4 123.2,280.1 123.2,281.1 123.3,281.9 123.3,282.2 123.4,283.0 123.5,284.0 123.5,285.2 123.6,285.5 123.7,286.8 123.7,287.5 123.8,288.1 123.8,289.0 123.9,289.7 124.0,289.2 124.0,288.3 124.1,287.1 124.2,286.7 124.2,285.4 124.3,284.7 124.4,284.3 124.5,283.4 124.5,282.2 124.6,281.3 124.7,280.8 124.7,280.1 124.8,279.2 124.9,278.6 125.0,277.6 125.0,276.8 125.1,275.8 125.2,274.8 125.2,274.1 125.3,273.3 126.2,272.8 127.1,272.4 128.0,271.9 128.1,273.0 128.2,273.4 128.3,274.1 128.4,275.4 128.5,275.9 128.6,276.9 128.8,277.5 128.9,278.9 129.0,279.3 129.1,280.1 129.2,281.4 129.3,282.0 129.4,282.8 129.5,281.8 129.5,281.4 129.6,280.2 129.6,279.3 129.7,278.9 129.8,277.9 129.8,277.0 129.9,275.8 129.9,275.4 130.0,274.4 130.0,273.7 130.1,272.6 131.1,273.1 132.1,273.9 132.8,274.6 133.5,275.1 134.2,275.3 135.1,274.7 136.0,274.5 136.9,273.9 137.6,273.4 138.2,272.4 138.6,272.1 139.0,271.3 139.5,270.5 139.9,269.3 140.3,268.9 141.0,268.3 141.6,267.7 142.3,266.9 143.2,266.3 144.1,266.4 145.0,266.2 145.9,267.0 146.9,267.5 147.8,267.6 148.5,267.4 149.2,266.2 149.8,266.1 150.5,265.5 151.4,265.6 152.4,265.2 153.3,264.8 154.2,264.5 155.1,264.0 156.0,264.2 156.9,264.5 157.8,264.5 158.7,264.2 159.6,264.5 160.6,264.5 161.5,264.8 162.2,265.5 162.8,266.0 163.5,266.2 164.2,266.9 164.9,267.3 165.6,267.6 166.3,268.3 166.6,267.4 166.9,266.6 167.2,265.8 167.4,265.2 167.7,264.1 168.0,263.8 168.3,262.8 168.7,261.9 169.1,260.9 169.6,260.1 170.0,259.4 170.4,258.7 171.3,258.6 172.2,258.9 173.1,258.7 174.1,258.0 175.1,258.0 176.1,258.1 177.2,258.7 177.7,257.7 178.2,256.7 178.7,256.3 179.2,255.3 179.4,255.8 179.7,256.5 179.9,257.7 180.1,258.6 180.4,259.5 180.6,260.0 181.6,259.7 182.7,259.4 183.2,259.9 183.7,261.1 184.2,261.6 184.7,262.1 185.6,262.3 186.6,262.6 187.5,262.8 188.4,263.4 189.3,263.7 190.2,263.5 191.1,264.1 192.0,263.7 192.9,264.2 193.8,264.5 194.8,265.0 195.7,265.5 196.4,265.7 197.1,266.7 197.8,266.6 198.5,267.5 199.3,268.2 200.2,268.4 201.1,268.9 201.9,269.2 202.8,269.6 203.7,270.4 204.5,270.6 205.4,271.0 206.2,271.5 207.1,271.7 208.0,271.8 208.8,271.8 209.7,272.2 210.6,271.8 211.4,271.7 212.3,271.8 213.2,272.3 214.1,272.3 214.9,272.3 215.8,272.7 216.7,272.9 217.5,272.8 218.3,272.6 219.2,273.0 220.1,273.2 220.9,272.8 221.8,273.2 222.7,272.7 223.5,272.6 224.4,272.8 225.2,272.2 226.1,272.3 227.0,271.9 227.8,272.1 228.7,272.1 229.6,271.8 230.5,271.9 231.3,271.5 232.2,270.9 233.1,271.0 233.9,270.7 234.8,270.2 235.7,270.2 236.5,270.1 237.4,270.2 238.2,269.5 239.1,269.6 240.0,269.2 240.8,269.5 241.7,269.4 242.6,270.0 243.4,270.1 244.3,269.3 245.2,269.0 246.0,268.9 246.9,268.4 247.8,267.7 248.7,267.9 249.5,267.0 250.4,266.6 251.2,266.3 252.1,266.1 253.0,265.0 253.8,264.9 254.5,264.8 255.2,263.5 255.9,263.4 256.6,262.9 257.3,262.3 257.8,262.0 258.3,260.8 258.9,260.6 259.4,259.6 259.9,258.8 260.1,257.9 260.3,256.8 260.5,256.0 260.8,255.2 261.0,254.4 261.2,253.5 261.4,253.0 261.6,251.9 261.9,250.9 262.2,250.3 262.5,249.3 262.7,249.8 262.9,250.8 263.1,252.1 263.3,253.1 263.5,253.5 263.7,254.2 263.9,255.4 263.9,256.0 264.0,257.0 264.0,257.9 264.0,258.9 264.1,259.6 264.1,260.7 264.2,261.7 264.2,262.3 264.3,261.7 264.3,260.9 264.4,260.0 264.5,258.9 264.5,258.6 264.6,257.3 264.7,257.0 264.8,255.9 264.8,255.2 264.9,254.3 265.0,253.6 265.0,252.6 265.1,251.9 266.0,252.0 266.8,252.1 267.7,251.9 268.3,252.4 268.8,253.2 269.4,253.7 269.8,252.8 270.2,251.9 270.7,251.0 271.1,250.2" fill="none" stroke="#a3d08a" stroke-width="1.1" stroke-linejoin="round" stroke-dasharray="5 3"/>
<polyline points="76.6,329.6 76.8,328.6 76.9,327.7 77.1,327.2 77.2,326.0 77.4,325.4 77.5,324.5 77.7,323.4 77.8,322.8 78.0,322.0 78.2,320.9 78.4,320.2 78.6,319.2 78.9,318.3 79.1,317.7 79.3,317.1 79.5,316.0 79.9,314.8 80.2,313.8 80.6,313.0 81.5,312.3 82.5,313.5 83.0,314.2 83.5,315.1 84.0,315.5 84.5,316.2 85.0,316.8 85.5,317.5 86.2,318.5 87.0,319.0 87.8,318.2 88.5,318.0 89.7,317.0 91.0,316.5 91.7,317.2 92.3,317.5 92.8,318.1 93.2,318.8 93.7,319.7 94.3,320.4 95.0,321.5 95.7,322.1 96.3,323.0 97.2,323.5 98.0,323.5 98.9,324.0" fill="none" stroke="#7483c2" stroke-width="1.0" stroke-linejoin="round"/>
<polyline points="98.9,324.0 99.8,324.0 100.6,323.9 101.5,324.3 102.4,324.5 103.2,324.1 104.1,324.5 105.0,324.5 105.8,324.2 106.6,323.7 107.4,323.9 108.2,323.3 109.0,323.5 109.8,323.2 110.6,322.8 111.4,322.6 112.2,322.6 113.0,322.5 113.8,322.9 114.6,322.4 115.4,322.6 116.2,323.0 117.0,323.0 117.8,323.5 118.6,323.3 119.4,323.2 120.2,323.8 121.0,323.5 121.8,323.0 122.6,323.5 123.4,322.9 124.2,322.7 125.0,322.8 125.8,322.5 126.7,322.6 127.5,323.0 128.3,322.4 129.2,322.7 130.0,322.6 130.8,322.6 131.6,322.2 132.5,322.2 133.3,321.7 134.1,321.9 134.9,321.4 135.7,321.4 136.6,321.7 137.4,321.4 138.2,321.3 139.0,321.1 139.8,321.2 140.7,321.0 141.5,320.7 142.3,320.8 143.2,321.3 144.1,321.6 145.0,321.7 145.9,321.6 146.9,321.9 147.8,321.9 148.6,321.7 149.4,321.8 150.3,321.4 151.1,320.9 151.9,320.8 152.8,320.9 153.7,319.9 154.6,319.9 155.5,319.4 156.5,319.2 157.4,318.5 158.3,317.8 159.2,317.6 160.1,317.1 160.9,316.6 161.7,317.0 162.6,317.0 163.4,316.7 164.2,316.5 165.0,316.7 165.8,316.1 166.7,316.2 167.5,316.0 168.3,315.8 169.1,315.9 169.9,315.8 170.8,316.1 171.6,316.2 172.4,315.8 173.2,315.9 174.0,316.2 174.9,315.9 175.7,316.5 176.5,316.5 177.3,316.6 178.1,316.8 179.0,316.6 179.8,316.1 180.6,316.2 181.4,316.0 182.2,316.2 183.1,315.6 183.9,315.8 184.7,315.8 185.5,315.5 186.3,315.3 187.2,315.2 188.0,315.7 188.8,315.4 189.6,314.9 190.4,314.8 191.3,314.7 192.1,314.9 192.9,314.4 193.7,314.0 194.5,314.2 195.4,314.2 196.2,314.4 197.0,314.0 197.8,314.6 198.6,315.0 199.4,314.9 200.2,315.5 201.1,315.3 201.9,315.1 202.8,315.4 203.7,315.3 204.5,314.5 205.4,314.6 206.3,314.6 207.1,314.8 208.0,315.0 208.9,315.4 209.7,315.7 210.6,315.7 211.4,315.7 212.3,316.3 213.2,316.1 214.0,315.9 214.9,316.0 215.8,316.1 216.6,315.8 217.5,315.5 218.4,315.4 219.2,315.3 220.1,315.2 221.0,314.5 221.8,315.1 222.7,314.6 223.6,314.8 224.4,314.8 225.3,314.7 226.2,314.3 227.0,314.3 227.9,314.3 228.8,314.0 229.6,314.5 230.5,314.1 231.4,314.2 232.2,314.3 233.1,314.6 234.0,313.9 234.8,313.5 235.7,313.2 236.6,313.3 237.4,313.7 238.3,314.6 239.2,313.8 240.0,313.1 240.9,312.9 241.5,313.4 242.0,313.7 242.6,314.6 243.5,315.2 244.4,315.4 245.2,315.3 246.1,315.8 247.0,316.3 247.8,316.2 248.7,316.2 249.6,316.0 250.4,316.6 251.2,316.7 252.1,316.3 253.0,316.3 253.8,316.3 254.7,316.0 255.5,316.0 256.4,316.2 257.2,316.1 258.1,316.6 259.0,316.0 259.8,315.9 260.7,316.3 261.6,316.7 262.4,316.3 263.3,316.0 264.2,316.3 265.1,315.9 265.9,316.3 266.8,316.7 267.7,316.3 268.6,316.7 269.4,316.6 270.3,316.3 271.2,316.5 272.0,316.4 272.9,316.7" fill="none" stroke="#7483c2" stroke-width="1.0" stroke-linejoin="round" stroke-dasharray="6 3"/>
<polyline points="76.6,329.6 76.8,328.8 77.0,328.0 77.2,327.2 77.5,326.4 77.7,325.4 77.9,324.3 78.2,323.8 78.4,322.3 78.7,321.8 78.9,321.4 79.2,320.3 79.4,319.7 79.7,318.3 79.9,317.8 80.6,317.1 81.2,316.3 81.9,315.8 82.8,316.5 83.8,317.1 84.8,317.8 85.8,318.4 86.5,318.6 87.1,319.2 87.8,319.7 88.4,320.4 89.1,321.2 89.7,321.6 90.3,321.7 91.0,322.4 91.9,322.1 92.8,321.2 93.7,321.0 94.5,320.8 95.3,320.1 96.1,319.7 96.9,319.7 97.7,320.0 98.6,319.5 99.4,319.5 100.2,319.7 101.0,319.8 101.8,319.4 102.5,318.8 103.3,319.0 104.1,318.4 104.9,318.2 105.7,318.0 106.5,317.4 107.3,317.7 108.1,317.1 109.1,317.1 110.0,317.1 111.0,316.9 112.0,316.5 113.0,316.2 114.0,316.1 114.9,315.7 115.9,315.8 116.7,315.4 117.5,315.2 118.3,315.2 119.1,315.3 119.9,315.1 120.9,314.6 121.8,314.9 122.8,314.5 123.8,314.5 124.8,314.2 125.8,314.4 126.7,314.0 127.7,313.8 128.8,313.6 130.0,313.7 130.9,313.7 131.8,313.8 132.7,313.7 133.6,313.2 134.6,313.6 135.5,313.0 136.5,312.0 137.5,311.7 138.2,312.4 138.9,312.9 139.6,312.9 140.3,313.7 141.0,313.2 141.6,312.3 142.3,311.7 143.2,311.5 144.1,310.9 145.0,311.0 145.8,310.5 146.7,310.5 147.5,310.9 148.4,310.2 149.2,310.3 150.0,310.3 150.8,310.3 151.7,310.2 152.5,309.6 153.3,309.6 154.1,309.5 154.9,309.6 155.8,309.8 156.6,309.3 157.4,309.6 158.2,309.8 159.0,309.8 159.9,309.9 160.7,309.3 161.5,309.6 162.3,309.9 163.1,309.2 164.0,309.4 164.8,309.5 165.6,309.4 166.4,309.5 167.2,308.9 168.1,309.2 168.9,308.7 169.7,308.5 170.5,308.3 171.3,308.2 172.2,308.0 173.0,307.8 173.8,308.0 174.6,307.7 175.4,308.0 176.3,308.1 177.1,307.4 177.9,307.6 178.7,307.1 179.5,307.7 180.4,307.2 181.2,307.0 182.0,306.9 182.8,306.7 183.6,306.8 184.5,306.9 185.3,306.6 186.1,306.6 186.9,306.5 187.7,306.1 188.6,306.7 189.4,306.0 190.2,306.2 191.0,306.1 191.8,306.2 192.7,305.5 193.5,305.8 194.3,305.5 195.2,305.6 196.1,305.1 197.0,304.8 197.8,305.1 198.6,304.7 199.4,305.0 200.2,305.1 201.1,304.8 201.9,305.2 202.8,304.7 203.7,304.7 204.5,305.0 205.4,304.6 206.3,304.8 207.1,304.8 208.0,304.4 208.9,304.3 209.7,304.4 210.6,304.2 211.4,304.2 212.3,304.1 213.2,304.1 214.0,304.2 214.6,303.4 215.2,303.0 215.8,302.5 216.7,302.8 217.5,302.7 218.4,302.4 219.3,302.2 220.1,302.1 221.0,302.1 221.8,301.5 222.7,301.3 223.6,301.3 224.4,300.8 225.3,300.9 226.1,300.4 227.0,300.4 227.8,301.2 228.7,301.6 229.6,302.5 229.8,301.9 230.1,301.1 230.3,300.3 230.5,299.4 231.4,299.9 232.2,300.0 233.1,300.4 233.8,299.9 234.5,299.0 235.1,298.5 235.8,298.1 236.5,297.3 237.1,296.9 237.7,296.0 238.2,295.9 238.8,295.1 239.4,294.4 240.0,293.8 240.7,294.0 241.3,294.9 241.9,295.2 242.6,295.9 243.5,295.6 244.3,295.1 245.2,294.7 246.1,294.4 246.9,293.7 247.8,293.0 248.4,292.3 248.9,291.2 249.5,290.4 250.4,290.0 251.2,289.6 252.1,289.0 253.0,288.8 253.8,288.1 254.7,288.0 255.6,287.4 256.4,287.6 257.3,287.4 258.1,287.5 259.0,287.4 259.8,287.0 260.7,286.9 261.6,286.8 262.5,286.4 263.4,286.7 264.2,286.7 265.1,286.2 266.0,286.1 266.9,286.2 267.7,286.3 268.5,286.3 269.4,286.1 270.3,285.4 271.1,285.4 272.0,284.8 272.9,284.3" fill="none" stroke="#5aab37" stroke-width="1.3" stroke-linejoin="round"/>
<polyline points="76.6,329.6 76.9,329.0 77.2,328.3 77.5,327.3 77.7,326.4 78.0,325.5 78.3,325.2 78.6,324.3 78.9,323.5 79.2,322.8 79.6,321.7 79.9,321.0 80.6,321.7 81.2,321.8 81.9,322.4 82.6,323.3 83.2,323.9 83.8,324.3 84.5,325.0 85.2,325.5 85.8,326.1 86.4,326.2 87.1,326.9 88.0,327.2 88.8,327.6 89.7,327.6 90.6,327.6 91.4,328.2 92.3,328.2 93.2,328.3 94.1,328.4 95.0,328.2 95.9,327.7 96.7,327.0 97.6,326.9 98.6,327.0 99.5,326.8 100.5,326.4 101.5,326.3 102.3,325.8 103.1,325.6 103.9,325.6 104.7,325.1 105.5,325.0 106.3,324.9 107.1,324.3 107.8,323.6 108.6,323.5 109.4,323.0 110.3,322.5 111.1,322.4 112.0,321.7 112.9,322.4 113.7,322.6 114.6,323.0 115.5,323.3 116.3,323.6 117.2,323.7 118.0,324.0 118.8,324.3 119.6,323.7 120.4,324.1 121.2,324.3 122.2,324.2 123.2,323.9 124.1,323.9 125.1,323.7 126.1,323.2 127.0,323.6 128.0,323.2 129.0,323.0 130.0,324.0 130.9,323.7 131.8,324.1 132.7,324.0 133.4,323.3 134.1,322.7 134.8,322.4 135.5,321.9 136.4,321.2 137.3,320.8 138.2,320.6 139.1,320.4 140.0,319.8 140.9,319.2 141.8,318.6 142.8,318.9 143.7,318.5 144.5,318.0 145.3,318.1 146.2,318.4 147.0,318.0 147.8,317.8 148.6,317.5 149.4,317.4 150.3,317.3 151.1,317.0 151.9,317.1 152.7,317.3 153.5,316.4 154.4,316.5 155.2,316.6 156.0,316.2 156.8,316.0 157.6,316.4 158.5,315.8 159.3,316.2 160.1,315.8 160.9,316.2 161.7,316.1 162.6,316.3 163.4,316.1 164.2,316.2 165.0,316.4 165.8,316.2 166.7,316.0 167.5,315.9 168.3,315.8 169.1,316.0 169.9,315.9 170.8,315.8 171.6,316.3 172.4,316.2 173.2,316.0 174.0,316.2 174.9,316.4 175.7,316.0 176.5,316.2 177.3,315.8 178.1,315.8 179.0,316.0 179.8,315.8 180.6,315.8 181.4,315.6 182.2,315.8 183.1,316.1 183.9,315.6 184.7,315.8 185.5,315.7 186.3,316.1 187.2,315.9 188.0,315.6 188.8,315.8 189.6,315.7 190.4,315.6 191.3,315.3 192.1,315.4 192.9,315.4 193.8,315.6 194.8,316.3 195.7,316.5 196.6,316.3 197.5,316.5 198.4,316.7 199.3,316.6 200.2,316.3 201.1,316.2 201.9,316.4 202.8,316.2 203.7,316.2 204.5,316.3 205.4,316.3 206.3,316.8 207.1,317.2 208.0,317.2 208.9,317.1 209.7,316.9 210.6,317.2 211.4,316.9 212.3,317.2 213.2,316.9 214.0,317.4 214.9,316.9 215.8,317.4 216.6,317.1 217.5,317.5 218.3,317.4 219.2,317.2 220.1,318.1 221.0,317.6 221.8,317.5 222.7,317.8 223.5,317.4 224.4,317.0 225.2,317.1 226.1,316.7 227.0,316.9 227.8,316.6 228.7,316.6 229.6,316.3 230.4,316.4 231.3,316.2 232.2,316.5 233.1,316.5 233.9,316.1 234.8,316.3 235.7,316.3 236.5,315.8 237.4,315.7 238.2,316.0 239.1,315.8 240.0,316.0 240.8,315.7 241.7,315.5 242.6,315.8 243.4,315.5 244.3,316.1 245.2,316.0 246.1,315.8 246.9,316.2 247.8,316.4 248.7,316.5 249.5,316.5 250.4,316.3 251.0,316.9 251.5,317.6 252.1,318.1 252.7,317.7 253.2,316.6 253.8,316.3 254.7,316.6 255.6,316.6 256.4,316.3 257.3,316.3 258.2,316.5 259.0,316.3 259.9,316.1 260.8,316.4 261.6,316.0 262.5,316.5 263.3,316.6 264.2,316.3 265.1,316.2 265.9,316.7 266.8,316.2 267.7,316.8 268.5,316.5 269.4,316.7 270.3,317.2 271.1,316.9 272.0,317.4 272.9,317.2" fill="none" stroke="#223f84" stroke-width="1.1" stroke-linejoin="round"/>
<path d="M186.1,210.7 H200.9" stroke="#7483c2" stroke-width="1.2" stroke-dasharray="7.8 3.1"/>
<text class="t" x="203.7" y="213.3" style="font-size:7.5px">DMSO : PBS</text>
<path d="M186.1,221.4 H200.9" stroke="#a3d08a" stroke-width="1.2" stroke-dasharray="7.8 3.1"/>
<text class="t" x="203.7" y="224.0" style="font-size:7.5px">DMSO : OxLDL</text>
<path d="M186.1,232.1 H200.9" stroke="#223f84" stroke-width="1.5"/>
<text class="t" x="203.7" y="234.7" style="font-size:7.5px">25 mg/kg BTD : PBS</text>
<path d="M186.1,242.7 H200.9" stroke="#5aab37" stroke-width="2.0"/>
<text class="t" x="203.7" y="245.3" style="font-size:7.5px">25 mg/kg BTD : OxLDL</text>
</svg></body></html>
